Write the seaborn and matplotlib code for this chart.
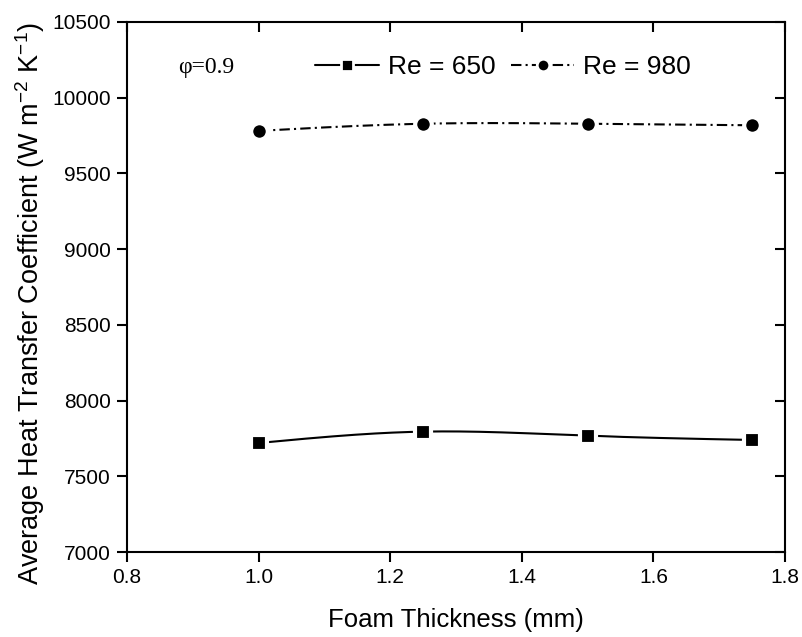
import numpy as np
import pandas as pd
import matplotlib
matplotlib.use("Agg")
import matplotlib.pyplot as plt
from matplotlib.lines import Line2D
import seaborn as sns

# ---- data ----
thickness = [1.0, 1.25, 1.5, 1.75]
htc_re650 = [7720, 7795, 7768, 7740]
htc_re980 = [9781, 9828, 9828, 9818]
series_labels = ["Re = 650", "Re = 980"]
x_ticks = [0.8, 1.0, 1.2, 1.4, 1.6, 1.8]
y_ticks = [7000, 7500, 8000, 8500, 9000, 9500, 10000, 10500]


def natural_spline(x, y, n=200):
    x = np.asarray(x, float)
    y = np.asarray(y, float)
    k = len(x)
    h = np.diff(x)
    A = np.zeros((k, k))
    b = np.zeros(k)
    A[0, 0] = A[-1, -1] = 1
    for i in range(1, k - 1):
        A[i, i - 1] = h[i - 1]
        A[i, i] = 2 * (h[i - 1] + h[i])
        A[i, i + 1] = h[i]
        b[i] = 6 * ((y[i + 1] - y[i]) / h[i] - (y[i] - y[i - 1]) / h[i - 1])
    M = np.linalg.solve(A, b)
    xs = np.linspace(x[0], x[-1], n)
    ys = np.empty_like(xs)
    for j, xv in enumerate(xs):
        i = min(np.searchsorted(x, xv, side="right") - 1, k - 2)
        t1 = x[i + 1] - xv
        t0 = xv - x[i]
        ys[j] = (M[i] * t1 ** 3 / (6 * h[i]) + M[i + 1] * t0 ** 3 / (6 * h[i])
                 + (y[i] / h[i] - M[i] * h[i] / 6) * t1
                 + (y[i + 1] / h[i] - M[i + 1] * h[i] / 6) * t0)
    return xs, ys


sns.set_style("ticks")
plt.rcParams["font.family"] = ["Liberation Sans", "DejaVu Sans"]
plt.rcParams["mathtext.fontset"] = "custom"
plt.rcParams["mathtext.rm"] = "Liberation Sans"
plt.rcParams["mathtext.it"] = "Liberation Sans"
plt.rcParams["text.color"] = "black"
plt.rcParams["axes.labelcolor"] = "black"

fig = plt.figure(figsize=(8.03, 6.37), dpi=100)
ax = fig.add_axes([0.1582, 0.1334, 0.8194, 0.8321])

dashdot = (0, (5, 2, 1, 2))
styles = [("-", "s", 11.5, 8.5), (dashdot, "o", 12.0, 9.0)]
handles = []
for vals, lab, (ls, mk, ms, lms) in zip([htc_re650, htc_re980], series_labels, styles):
    xs, ys = natural_spline(thickness, vals)
    curve = pd.DataFrame({"x": xs, "y": ys})
    sns.lineplot(data=curve, x="x", y="y", ax=ax, color="black",
                 linewidth=1.5, linestyle=ls)
    pts = pd.DataFrame({"x": thickness, "y": vals})
    ax.plot(pts["x"], pts["y"], linestyle="none", marker=mk, markersize=ms,
            markerfacecolor="black", markeredgecolor="white",
            markeredgewidth=3.0, zorder=5)
    handles.append(Line2D([], [], color="black", linewidth=1.5, linestyle=ls,
                          marker=mk, markersize=lms, markerfacecolor="black",
                          markeredgecolor="white", markeredgewidth=2.0,
                          label=lab))

ax.set_xlim(0.8, 1.8)
ax.set_ylim(7000, 10500)
ax.set_xticks(x_ticks)
ax.set_xticklabels([f"{v:.1f}" for v in x_ticks])
ax.set_yticks(y_ticks)
ax.set_yticklabels([str(v) for v in y_ticks])

for s in ax.spines.values():
    s.set_visible(True)
    s.set_linewidth(1.5)
    s.set_color("black")

ax.tick_params(axis="both", which="major", direction="out", length=7.5,
               width=1.5, labelsize=15, colors="black", pad=4)
ax.tick_params(top=True, right=True, labeltop=False, labelright=False)
for t in ax.xaxis.get_major_ticks():
    t.tick2line.set_marker(3)  # top ticks point down (inward)
for t in ax.yaxis.get_major_ticks():
    t.tick2line.set_marker(0)  # right ticks point left (inward)

ax.set_xlabel("Foam Thickness (mm)", fontsize=18.5, labelpad=15)
ax.set_ylabel(r"Average Heat Transfer Coefficient (W m$^{-2}$ K$^{-1}$)",
              fontsize=19.5)
ax.yaxis.set_label_coords(-0.121, 0.469)

ax.text(0.078, 0.915, "φ=0.9", transform=ax.transAxes, fontsize=17,
        family=["Liberation Serif", "DejaVu Serif"], va="center", ha="left")

leg = ax.legend(handles=handles, loc="center left", bbox_to_anchor=(0.286, 0.915),
                ncol=2, frameon=False, fontsize=19, handlelength=2.4,
                handletextpad=0.34, columnspacing=0.6, borderpad=0,
                borderaxespad=0)

fig.savefig("out.png", dpi=100, facecolor="white")
